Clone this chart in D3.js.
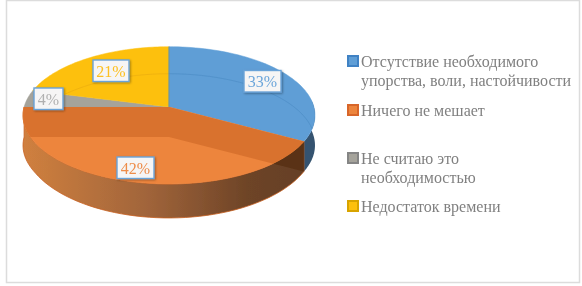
<!DOCTYPE html>
<html>
<head>
<meta charset="utf-8">
<script src="https://cdn.jsdelivr.net/npm/d3@7"></script>
<style>
html, body { margin: 0; padding: 0; background: #fff; overflow: hidden; }
text { font-family: "Liberation Serif", serif; }
</style>
</head>
<body>
<div id="chart"></div>
<script>
// values
var categories = ["Отсутствие необходимого упорства, воли, настойчивости", "Ничего не мешает", "Не считаю это необходимостью", "Недостаток времени"];
var values = [33, 42, 4, 21];
var labels = ["33%", "42%", "4%", "21%"];
var legendLines = [["Отсутствие необходимого", "упорства, воли, настойчивости"], ["Ничего не мешает"], ["Не считаю это", "необходимостью"], ["Недостаток времени"]];
var colors = ["#5f9ed6", "#ed853d", "#a5a39b", "#fdc010"];

var width = 582, height = 286;
var svg = d3.select("#chart").append("svg").attr("width", width).attr("height", height);
var defs = svg.append("defs");

svg.append("rect").attr("x", 6.5).attr("y", 0.5).attr("width", 573).attr("height", 282)
    .attr("fill", "#fff").attr("stroke", "#dcdcdc").attr("stroke-width", 1.5);

// tilted disc, perspective so the centre sits above the middle of the ellipse
var cx = 169, cy = 107, spokeDepth = 30, backDepth = 27;
var persp = 0.1216, sx = 144.9, sy = 67.6;
function project(a) {
    var u = Math.sin(a), v = -Math.cos(a), w = 1 - persp * v;
    return [cx + sx * u / w, cy + sy * v / w];
}
var arcs = d3.pie().sort(null).value(function(d) { return d; })(values);
var line = d3.line();

function rimPoints(a0, a1) {
    return d3.range(0, 61).map(function(i) { return project(a0 + (a1 - a0) * i / 60); });
}
// wall gets a little taller towards the viewer
function down(p) { return [p[0], p[1] + spokeDepth + Math.max(0, p[1] - 143) * 4 / 41]; }
function shift(p, d) { return [p[0], p[1] + d]; }

var sideGrad = defs.append("linearGradient").attr("id", "sideOrange").attr("gradientUnits", "userSpaceOnUse")
    .attr("x1", 23).attr("x2", 303).attr("y1", 0).attr("y2", 0);
sideGrad.append("stop").attr("offset", 0).attr("stop-color", "#d0803f");
sideGrad.append("stop").attr("offset", 0.45).attr("stop-color", "#a0643a");
sideGrad.append("stop").attr("offset", 0.8).attr("stop-color", "#6e4427");
sideGrad.append("stop").attr("offset", 1).attr("stop-color", "#654026");

var shadow = defs.append("filter").attr("id", "boxShadow").attr("x", "-20%").attr("y", "-20%").attr("width", "150%").attr("height", "150%");
shadow.append("feDropShadow").attr("dx", 1).attr("dy", 1).attr("stdDeviation", 1.2).attr("flood-color", "#000").attr("flood-opacity", 0.35);

var soft = defs.append("filter").attr("id", "soft");
soft.append("feGaussianBlur").attr("stdDeviation", 0.35);

var chart = svg.append("g").attr("filter", "url(#soft)");

// outer wall: blue sliver on the right, then orange
var blueTop = rimPoints(Math.PI / 2 - 0.1, arcs[0].endAngle);
chart.append("path")
    .attr("d", line(blueTop.concat(blueTop.slice().reverse().map(down))) + "Z")
    .attr("fill", "#35536f");

var orangeTop = rimPoints(arcs[1].startAngle, arcs[1].endAngle);
chart.append("path")
    .attr("d", line(orangeTop.concat(orangeTop.slice().reverse().map(down))) + "Z")
    .attr("fill", "url(#sideOrange)").attr("stroke", "#c8601f").attr("stroke-width", 0.8);

// bottom slice seen through the wall
var spokeEnd = shift(project(arcs[0].endAngle), spokeDepth);
var spokeCentre = [cx, cy + spokeDepth];
chart.append("path")
    .attr("d", line([project(arcs[0].endAngle), spokeEnd, spokeCentre]) + "Z")
    .attr("fill", "#5a3214");

// top faces
arcs.forEach(function(d, i) {
    var pts = [[cx, cy]].concat(rimPoints(d.startAngle, d.endAngle));
    chart.append("path").attr("d", line(pts) + "Z").attr("fill", colors[i])
        .attr("stroke", colors[i]).attr("stroke-width", 0.5);
});

// darker far band of the orange slice
defs.append("clipPath").attr("id", "orangeClip").append("path")
    .attr("d", line([[cx, cy]].concat(orangeTop)) + "Z");
chart.append("path")
    .attr("clip-path", "url(#orangeClip)")
    .attr("d", line([[15, 100], [325, 100], [325, spokeEnd[1]], spokeEnd, spokeCentre, [15, spokeCentre[1]]]) + "Z")
    .attr("fill", "#d9722e");

// faint back rim of the bottom face, on blue and yellow only
[0, 3].forEach(function(i) {
    var a = arcs[i];
    var id = "rimClip" + i;
    defs.append("clipPath").attr("id", id).append("path")
        .attr("d", line([[cx, cy]].concat(rimPoints(a.startAngle, a.endAngle))) + "Z");
    var back = rimPoints(-Math.PI * 0.6, Math.PI * 0.6).map(function(p) { return shift(p, backDepth); });
    chart.append("path").attr("clip-path", "url(#" + id + ")").attr("d", line(back))
        .attr("fill", "none").attr("stroke", i === 0 ? "#4f8fc8" : "#eeb008").attr("stroke-width", 0.8);
});

// blue spoke at twelve o'clock
chart.append("path").attr("d", line([[cx, cy], project(0)])).attr("stroke", "#4a8cc7").attr("stroke-width", 1).attr("fill", "none");

// data labels
var labelPos = [[262.5, 81.5], [135.5, 168], [48.5, 99], [111, 71]];
var labelW = [37, 37, 29, 36];
var textColors = ["#6ba5da", "#ee8c48", "#b0b0b0", "#fdc020"];
labels.forEach(function(t, i) {
    var p = labelPos[i];
    chart.append("rect").attr("x", p[0] - labelW[i] / 2).attr("y", p[1] - 11)
        .attr("width", labelW[i]).attr("height", 21.5)
        .attr("fill", "#f6f5f5").attr("stroke", "#6ba3d8").attr("stroke-width", 1.4)
        .attr("filter", "url(#boxShadow)");
    chart.append("text").attr("x", p[0]).attr("y", p[1] + 5.5).attr("text-anchor", "middle")
        .attr("font-size", 16).attr("fill", textColors[i]).text(t);
});

// legend
var legendY = [61, 110, 158, 206];
var legendEdge = ["#3f82c4", "#d8662a", "#858585", "#d8a400"];
legendLines.forEach(function(ls, i) {
    chart.append("rect").attr("x", 348).attr("y", legendY[i] - 5).attr("width", 10).attr("height", 10)
        .attr("fill", colors[i]).attr("stroke", legendEdge[i]).attr("stroke-width", 2);
    ls.forEach(function(t, j) {
        chart.append("text").attr("x", 361).attr("y", legendY[i] + 5.5 + j * 19).attr("font-size", 16)
            .attr("fill", "#808080").text(t);
    });
});
</script>
</body>
</html>
